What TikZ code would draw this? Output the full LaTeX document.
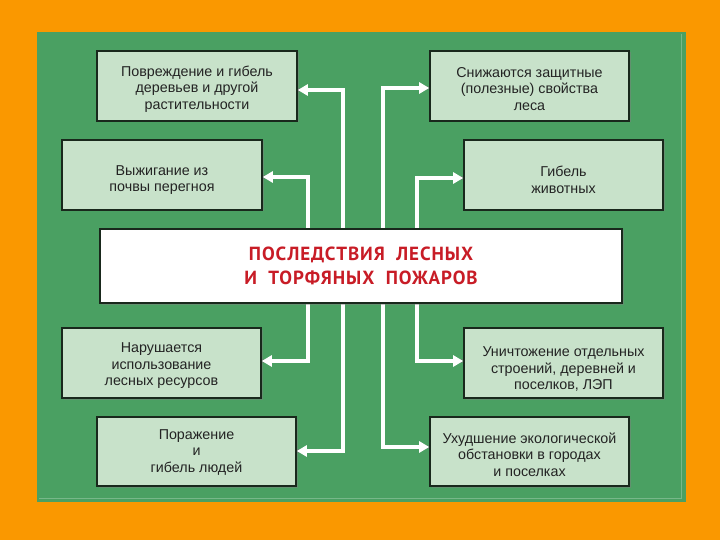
\documentclass[tikz,border=0pt]{standalone}
\usepackage{fontspec}
\setmainfont{Liberation Sans}
\newfontfamily\titlefont[LetterSpace=5]{PT Sans}
\usetikzlibrary{arrows.meta,shadows}
\definecolor{bgor}{RGB}{250,152,0}
\definecolor{pgreen}{RGB}{74,160,98}
\definecolor{boxfill}{RGB}{200,226,202}
\definecolor{boxline}{RGB}{25,40,28}
\definecolor{titlered}{RGB}{200,28,38}
\definecolor{txt}{RGB}{35,35,35}
\begin{document}
\begin{tikzpicture}[x=1pt,y=-1pt,
  infobox/.style={draw=boxline, line width=1.6pt, fill=boxfill, inner sep=0pt,
    drop shadow={shadow xshift=1.5pt, shadow yshift=-1.5pt, opacity=0.45}},
  infotext/.style={align=center, text=txt, font=\fontsize{14.3}{16.5}\selectfont, inner sep=0pt},
  wire/.style={draw=white, line width=3.6pt, line join=miter},
  tip/.style={{Triangle[width=11pt,length=10pt]}-{Triangle[width=11pt,length=10pt]}},
  wireshadow/.style={draw=black!55, opacity=0.5, line width=4.2pt, line join=miter},
]
\useasboundingbox (0,0) rectangle (720,540);
\fill[bgor] (0,0) rectangle (720,540);
\fill[pgreen] (37,32) rectangle (686,502);
\draw[pgreen!75!white, line width=0.5pt] (681,34) -- (681,498) -- (39,498);

% junction coordinates
\coordinate (ja) at (343,90);  \coordinate (jf) at (343,451);
\coordinate (jb) at (308,177); \coordinate (je) at (308,361);
\coordinate (jc) at (383,88);  \coordinate (jh) at (383,447);
\coordinate (jd) at (417,178); \coordinate (jg) at (417,361);

% connectors (shadows) and connectors, drawn below the boxes
\path
  (197,86)    coordinate (Ac) (162,175) coordinate (Bc)
  (529.5,86)  coordinate (Cc) (563.5,175) coordinate (Dc)
  (161.5,363) coordinate (Ec) (196.5,451.5) coordinate (Fc)
  (563.5,363) coordinate (Gc) (529.5,451.5) coordinate (Hc);

\path
  (Ac) node[infobox, minimum width=200pt, minimum height=70pt] (A) {}
  (Bc) node[infobox, minimum width=200pt, minimum height=70pt] (B) {}
  (Cc) node[infobox, minimum width=199pt, minimum height=70pt] (C) {}
  (Dc) node[infobox, minimum width=199pt, minimum height=70pt] (D) {}
  (Ec) node[infobox, minimum width=199pt, minimum height=70pt] (E) {}
  (Fc) node[infobox, minimum width=199pt, minimum height=69pt] (F) {}
  (Gc) node[infobox, minimum width=199pt, minimum height=70pt] (G) {}
  (Hc) node[infobox, minimum width=199pt, minimum height=69pt] (H) {};

\begin{scope}[shift={(1,1)}]
\draw[wireshadow] (ja -| A.east) -- (ja) -- (jf) -- (jf -| F.east);
\draw[wireshadow] (jb -| B.east) -- (jb) -- (je) -- (je -| E.east);
\draw[wireshadow] (jc -| C.west) -- (jc) -- (jh) -- (jh -| H.west);
\draw[wireshadow] (jd -| D.west) -- (jd) -- (jg) -- (jg -| G.west);
\end{scope}
\draw[wire, tip] (ja -| A.east) -- (ja) -- (jf) -- (jf -| F.east);
\draw[wire, tip] (jb -| B.east) -- (jb) -- (je) -- (je -| E.east);
\draw[wire, tip] (jc -| C.west) -- (jc) -- (jh) -- (jh -| H.west);
\draw[wire, tip] (jd -| D.west) -- (jd) -- (jg) -- (jg -| G.west);

% central box
\node[draw=boxline, line width=1.6pt, fill=white, minimum width=522pt, minimum height=74pt,
  drop shadow={shadow xshift=1.5pt, shadow yshift=-1.5pt, opacity=0.45},
  align=center, text=titlered, font=\titlefont\bfseries\fontsize{19}{23.5}\selectfont]
  (T) at (361,266) {ПОСЛЕДСТВИЯ~~ЛЕСНЫХ\\И~~ТОРФЯНЫХ~~ПОЖАРОВ};

% box texts
\node[infotext] (At) at ([yshift=-3pt]A.center) {Повреждение и гибель\\деревьев и другой\\растительности};
\node[infotext] (Bt) at ([yshift=-5pt]B.center) {Выжигание из\\почвы перегноя};
\node[infotext] (Ct) at ([yshift=-3pt]C.center) {Снижаются защитные\\(полезные) свойства\\леса};
\node[infotext] (Dt) at ([yshift=-5pt]D.center) {Гибель\\животных};
\node[infotext] (Et) at ([yshift=-3pt]E.center) {Нарушается\\использование\\лесных ресурсов};
\node[infotext] (Ft) at ([yshift=-1pt]F.center) {Поражение\\и\\гибель людей};
\node[infotext] (Gt) at ([yshift=-6pt]G.center) {Уничтожение отдельных\\строений, деревней и\\поселков, ЛЭП};
\node[infotext] (Ht) at ([yshift=-3pt]H.center) {Ухудшение экологической\\обстановки в городах\\и поселках};
\end{tikzpicture}
\end{document}
